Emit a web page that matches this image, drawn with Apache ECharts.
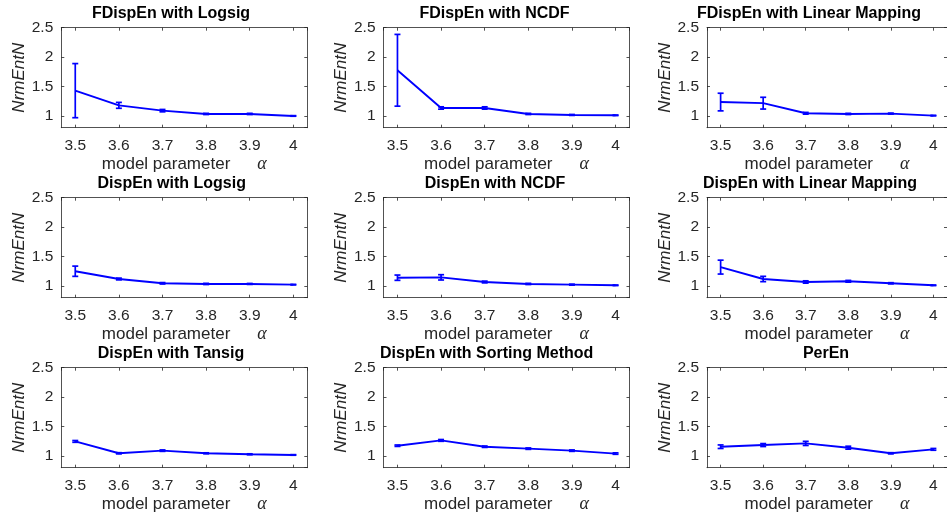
<!DOCTYPE html>
<html>
<head>
<meta charset="utf-8">
<script src="https://cdn.jsdelivr.net/npm/echarts@6/dist/echarts.min.js"></script>
<style>
  html, body { margin: 0; padding: 0; background: #ffffff; }
  #chart { width: 947px; height: 516px; }
</style>
</head>
<body>
<div id="chart"></div>
<script>
// Model parameter alpha values (x axis of every panel)
const alphaValues = [3.5, 3.6, 3.7, 3.8, 3.9, 4.0];

// Panel titles, row by row
const panelTitles = [
  'FDispEn with Logsig', 'FDispEn with NCDF', 'FDispEn with Linear Mapping',
  'DispEn with Logsig', 'DispEn with NCDF', 'DispEn with Linear Mapping',
  'DispEn with Tansig', 'DispEn with Sorting Method', 'PerEn'
];

// Mean NrmEntN and error (half bar length) for each method
const fdispenLogsigMean = [1.43, 1.18, 1.09, 1.034, 1.034, 1.00];
const fdispenLogsigErr  = [0.46, 0.05, 0.02, 0.01, 0.01, 0.005];

const fdispenNcdfMean = [1.776, 1.135, 1.135, 1.034, 1.017, 1.011];
const fdispenNcdfErr  = [0.61, 0.02, 0.02, 0.01, 0.008, 0.005];

const fdispenLinearMean = [1.236, 1.217, 1.045, 1.034, 1.04, 1.006];
const fdispenLinearErr  = [0.15, 0.10, 0.015, 0.01, 0.008, 0.005];

const dispenLogsigMean = [1.25, 1.118, 1.045, 1.034, 1.034, 1.022];
const dispenLogsigErr  = [0.087, 0.015, 0.012, 0.01, 0.008, 0.005];

const dispenNcdfMean = [1.14, 1.146, 1.067, 1.034, 1.022, 1.011];
const dispenNcdfErr  = [0.045, 0.045, 0.015, 0.01, 0.008, 0.005];

const dispenLinearMean = [1.32, 1.118, 1.067, 1.079, 1.045, 1.011];
const dispenLinearErr  = [0.118, 0.045, 0.02, 0.015, 0.01, 0.005];

const dispenTansigMean = [1.247, 1.045, 1.09, 1.045, 1.028, 1.017];
const dispenTansigErr  = [0.015, 0.01, 0.012, 0.008, 0.008, 0.005];

const dispenSortingMean = [1.174, 1.264, 1.157, 1.124, 1.09, 1.04];
const dispenSortingErr  = [0.012, 0.015, 0.012, 0.012, 0.012, 0.012];

const perenMean = [1.157, 1.185, 1.213, 1.14, 1.045, 1.112];
const perenErr  = [0.03, 0.025, 0.035, 0.025, 0.01, 0.015];

const panelMeans = [
  fdispenLogsigMean, fdispenNcdfMean, fdispenLinearMean,
  dispenLogsigMean, dispenNcdfMean, dispenLinearMean,
  dispenTansigMean, dispenSortingMean, perenMean
];
const panelErrs = [
  fdispenLogsigErr, fdispenNcdfErr, fdispenLinearErr,
  dispenLogsigErr, dispenNcdfErr, dispenLinearErr,
  dispenTansigErr, dispenSortingErr, perenErr
];

// Axis ranges
const xRange = [3.468, 4.032];
const yRange = [0.8, 2.5];

// Layout
const colLeft = [61.3, 383.5, 707];
const rowTop = [27.7, 197.7, 367.7];
const plotW = 246;
const plotH = 100;
const titleCenter = [171, 494.5, 809, 171.7, 495, 810, 171, 486.7, 826];

const FONT = '"Liberation Sans", Arial, Helvetica, sans-serif';
const AXIS_COLOR = '#262626';
const LINE_COLOR = '#0000ff';

function renderErrorBar(params, api) {
  const x = api.value(0);
  const lo = api.value(1);
  const hi = api.value(2);
  const top = api.coord([x, hi]);
  const bot = api.coord([x, lo]);
  const cap = 3;
  const style = { stroke: LINE_COLOR, lineWidth: 1.7 };
  return {
    type: 'group',
    children: [
      { type: 'line', shape: { x1: top[0], y1: top[1], x2: bot[0], y2: bot[1] }, style },
      { type: 'line', shape: { x1: top[0] - cap, y1: top[1], x2: top[0] + cap, y2: top[1] }, style },
      { type: 'line', shape: { x1: bot[0] - cap, y1: bot[1], x2: bot[0] + cap, y2: bot[1] }, style }
    ]
  };
}

const grids = [], xAxes = [], yAxes = [], series = [], titles = [];

panelTitles.forEach((name, i) => {
  const row = Math.floor(i / 3), col = i % 3;
  grids.push({ left: colLeft[col], top: rowTop[row], width: plotW, height: plotH, containLabel: false });

  titles.push({
    text: name,
    left: titleCenter[i],
    top: rowTop[row] - 22.5,
    textAlign: 'center',
    padding: 0,
    textStyle: { fontFamily: FONT, fontSize: 16, fontWeight: 'bold', color: '#000000' }
  });

  const tickCommon = { show: true, inside: true, length: 3, lineStyle: { color: AXIS_COLOR, width: 0.8 } };
  const lineCommon = { show: true, lineStyle: { color: AXIS_COLOR, width: 0.8 } };

  xAxes.push({
    type: 'value', gridIndex: i, position: 'bottom',
    min: xRange[0], max: xRange[1], minInterval: 0.1, maxInterval: 0.1,
    axisLine: lineCommon, axisTick: tickCommon, splitLine: { show: false },
    axisLabel: {
      show: true, showMinLabel: false, showMaxLabel: false, margin: 10.5,
      fontFamily: FONT, fontSize: 15.5, color: AXIS_COLOR
    },
    name: '{t|model parameter}{g|}{a|α}',
    nameLocation: 'middle', nameGap: 28,
    nameTextStyle: {
      rich: {
        t: { fontFamily: FONT, fontSize: 17, color: AXIS_COLOR },
        g: { width: 27 },
        a: { fontFamily: '"Liberation Serif", "DejaVu Serif", serif', fontStyle: 'italic', fontSize: 18, color: AXIS_COLOR }
      }
    }
  });
  xAxes.push({
    type: 'value', gridIndex: i, position: 'top',
    min: xRange[0], max: xRange[1], minInterval: 0.1, maxInterval: 0.1,
    axisLine: lineCommon, axisTick: tickCommon, splitLine: { show: false },
    axisLabel: { show: false }
  });

  yAxes.push({
    type: 'value', gridIndex: i, position: 'left',
    min: yRange[0], max: yRange[1], minInterval: 0.5, maxInterval: 0.5,
    axisLine: lineCommon, axisTick: tickCommon, splitLine: { show: false },
    axisLabel: {
      show: true, showMinLabel: false, margin: 8,
      fontFamily: FONT, fontSize: 15.5, color: AXIS_COLOR
    },
    name: 'NrmEntN', nameLocation: 'middle', nameGap: 33,
    nameTextStyle: { fontFamily: FONT, fontSize: 17, fontStyle: 'italic', color: AXIS_COLOR }
  });
  yAxes.push({
    type: 'value', gridIndex: i, position: 'right',
    min: yRange[0], max: yRange[1], minInterval: 0.5, maxInterval: 0.5,
    axisLine: lineCommon, axisTick: tickCommon, splitLine: { show: false },
    axisLabel: { show: false }
  });

  const means = panelMeans[i];
  const errs = panelErrs[i];
  series.push({
    type: 'line',
    xAxisIndex: 2 * i, yAxisIndex: 2 * i,
    data: alphaValues.map((a, k) => [a, means[k]]),
    showSymbol: false, symbol: 'none',
    lineStyle: { color: LINE_COLOR, width: 1.9 },
    animation: false, z: 3
  });
  series.push({
    type: 'custom',
    xAxisIndex: 2 * i, yAxisIndex: 2 * i,
    renderItem: renderErrorBar,
    encode: { x: 0, y: [1, 2] },
    data: alphaValues.map((a, k) => [a, means[k] - errs[k], means[k] + errs[k]]),
    animation: false, z: 4
  });
});

const chart = echarts.init(document.getElementById('chart'), null, { renderer: 'canvas' });
chart.setOption({
  backgroundColor: '#ffffff',
  animation: false,
  title: titles,
  grid: grids,
  xAxis: xAxes,
  yAxis: yAxes,
  series: series
});
</script>
</body>
</html>
